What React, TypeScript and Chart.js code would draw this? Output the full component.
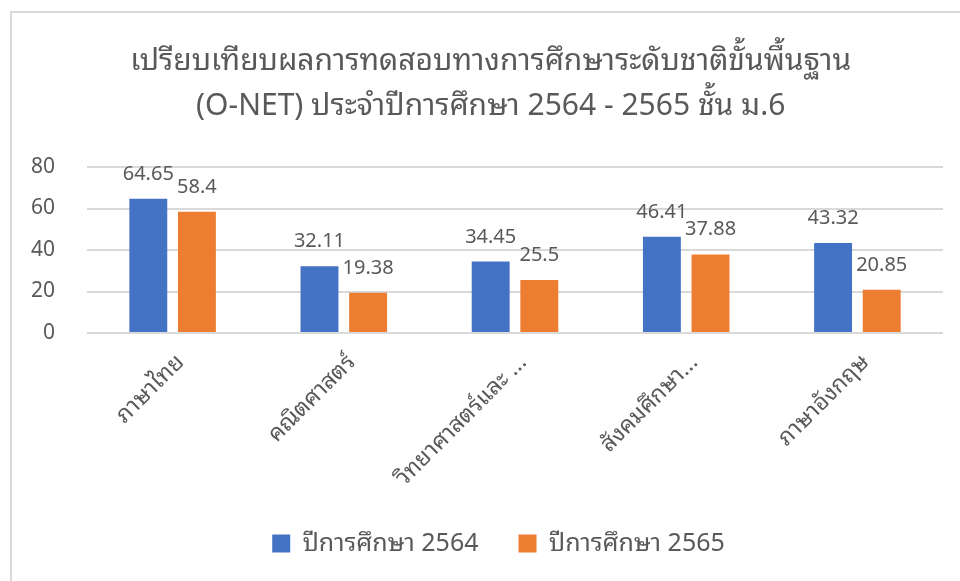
import React, { useEffect, useRef } from "react";
import { Chart, registerables } from "chart.js";

Chart.register(...registerables);

const categories = ["ภาษาไทย", "คณิตศาสตร์", "วิทยาศาสตร์และ ...", "สังคมศึกษา...", "ภาษาอังกฤษ"];
const series2564 = [64.65, 32.11, 34.45, 46.41, 43.32];
const series2565 = [58.4, 19.38, 25.5, 37.88, 20.85];
const seriesNames = ["ปีการศึกษา 2564", "ปีการศึกษา 2565"];
const titleLines = [
  "เปรียบเทียบผลการทดสอบทางการศึกษาระดับชาติขั้นพื้นฐาน",
  "(O-NET) ประจำปีการศึกษา 2564 - 2565 ชั้น ม.6",
];
const yMin = 0;
const yMax = 80;
const yStep = 20;

const FONT = '"Noto Sans Thai Looped", "Noto Sans", "Open Sans", sans-serif';
const TEXT = "#595959";
const GRID = "#d9d9d9";
const Y_FONT_SIZE = 21;

const dataLabelPlugin = {
  id: "barValueLabels",
  afterDatasetsDraw(chart: any) {
    const ctx = chart.ctx;
    ctx.save();
    ctx.font = `20px ${FONT}`;
    ctx.fillStyle = TEXT;
    ctx.textAlign = "center";
    ctx.textBaseline = "alphabetic";
    chart.data.datasets.forEach((ds: any, i: number) => {
      const meta = chart.getDatasetMeta(i);
      meta.data.forEach((el: any, j: number) => {
        ctx.fillText(String(ds.data[j]), el.x, el.y - 19);
      });
    });
    ctx.restore();
  },
};

export default function App() {
  const ref = useRef<HTMLCanvasElement | null>(null);
  useEffect(() => {
    if (!ref.current) return;
    const c = ref.current.getContext("2d")!;
    c.font = `${Y_FONT_SIZE}px ${FONT}`;
    const widest = c.measureText("80").width;
    const chart = new Chart(ref.current, {
      type: "bar",
      data: {
        labels: categories,
        datasets: [
          {
            label: seriesNames[0],
            data: series2564,
            backgroundColor: "#4472C4",
            barPercentage: 0.78,
            categoryPercentage: 0.568,
          },
          {
            label: seriesNames[1],
            data: series2565,
            backgroundColor: "#ED7D31",
            barPercentage: 0.78,
            categoryPercentage: 0.568,
          },
        ],
      },
      options: {
        responsive: false,
        animation: false,
        layout: { padding: { left: 54, right: 17, top: 0, bottom: 15 } },
        plugins: {
          tooltip: { enabled: false },
          title: {
            display: true,
            text: titleLines.map((t) => t + "  "),
            color: TEXT,
            font: { family: FONT, size: 30, weight: "normal", lineHeight: 45 / 30 },
            padding: { top: 39, bottom: 38 },
          },
          legend: {
            position: "bottom",
            labels: {
              color: TEXT,
              font: { family: FONT, size: 25 },
              boxWidth: 18,
              boxHeight: 18,
              padding: 40,
            },
          },
        },
        scales: {
          x: {
            grid: { display: false },
            border: { display: false },
            ticks: {
              color: TEXT,
              font: { family: FONT, size: 23 },
              minRotation: 45,
              maxRotation: 45,
              padding: 8,
              labelOffset: 8,
              autoSkip: false,
            },
            afterFit(scale: any) {
              scale.height = 158;
            },
          },
          y: {
            min: yMin,
            max: yMax,
            grid: { color: GRID, lineWidth: 2, drawTicks: false },
            border: { display: false },
            ticks: {
              stepSize: yStep,
              color: TEXT,
              font: { family: FONT, size: Y_FONT_SIZE },
              mirror: true,
              crossAlign: "far",
              padding: -(32 + widest),
            },
            afterFit(scale: any) {
              scale.width = 33;
            },
          },
        },
      },
      plugins: [dataLabelPlugin],
    });
    return () => chart.destroy();
  }, []);

  return (
    <div style={{ position: "fixed", left: 0, top: 0, width: 960, height: 581, overflow: "hidden", background: "#fff" }}>
      <div
        style={{
          position: "absolute",
          left: 10,
          top: 11,
          width: 1000,
          height: 1000,
          borderLeft: `2px solid ${GRID}`,
          borderTop: `2px solid ${GRID}`,
        }}
      />
      <canvas ref={ref} width={960} height={581} style={{ position: "absolute", left: 0, top: 0, width: 960, height: 581 }} />
    </div>
  );
}
